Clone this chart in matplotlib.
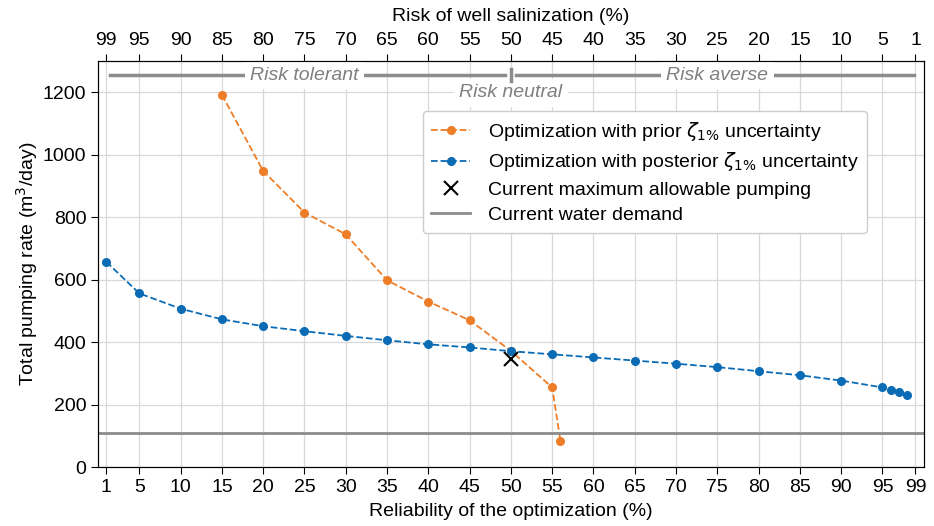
import matplotlib.pyplot as plt
import numpy as np

plt.rcParams['font.family'] = ['Liberation Sans', 'DejaVu Sans']
plt.rcParams['mathtext.fontset'] = 'dejavusans'

# data
rel_prior = [15, 20, 25, 30, 35, 40, 45, 50, 55, 56]
q_prior = [1192, 948, 815, 745, 598, 530, 470, 372, 255, 84]

rel_post = [1, 5, 10, 15, 20, 25, 30, 35, 40, 45, 50, 55, 60, 65, 70, 75, 80,
            85, 90, 95, 96, 97, 98]
q_post = [657, 556, 507, 473, 451, 435, 420, 406, 393, 383, 371, 361, 351,
          341, 331, 320, 307, 294, 277, 255, 248, 239, 231]

current_max = (50, 345)
water_demand = 110

xticks = [1] + list(range(5, 100, 5)) + [99]
risk_labels = [str(100 - t) for t in xticks]

orange = '#ee7d27'
blue = '#0b6cb5'
grey = '#8c8c8c'
fs = 14

fig = plt.figure(figsize=(9.34, 5.26), dpi=100)
ax = fig.add_axes([0.105, 0.112, 0.884, 0.772])

ax.plot(rel_prior, q_prior, '--o', color=orange, ms=5.5, lw=1.3,
        label=r'Optimization with prior $\zeta_{1\%}$ uncertainty')
ax.plot(rel_post, q_post, '--o', color=blue, ms=5.5, lw=1.3,
        label=r'Optimization with posterior $\zeta_{1\%}$ uncertainty')
ax.plot(*current_max, 'x', color='black', ms=10, mew=1.5, ls='none',
        label='Current maximum allowable pumping')
ax.axhline(water_demand, color=grey, lw=2, label='Current water demand')

# risk attitude bars
txt = dict(color='#7f7f7f', style='italic', fontsize=fs, ha='center',
           va='center', bbox=dict(facecolor='white', edgecolor='none', pad=4))
ax.text(25, 1255, 'Risk tolerant', zorder=3, **txt)
ax.text(75, 1255, 'Risk averse', zorder=3, **txt)
ax.text(50, 1198, 'Risk neutral', zorder=3, **txt)
ax.plot([1.4, 49.3], [1255, 1255], color=grey, lw=2.5, zorder=2)
ax.plot([50.6, 98.8], [1255, 1255], color=grey, lw=2.5, zorder=2)
ax.plot([50, 50], [1236, 1274], color=grey, lw=2.5, zorder=4)

ax.set_xlim(0, 100)
ax.set_ylim(0, 1300)
ax.set_xticks(xticks)
ax.set_yticks(np.arange(0, 1201, 200))
ax.tick_params(labelsize=fs, length=5)
ax.grid(True, color='#d9d9d9', lw=0.9)
ax.set_axisbelow(True)
ax.set_xlabel('Reliability of the optimization (%)', fontsize=fs, labelpad=5)
ax.set_ylabel('Total pumping rate (m$^3$/day)', fontsize=fs, labelpad=2)

top = ax.twiny()
top.set_xlim(ax.get_xlim())
top.set_xticks(xticks)
top.set_xticklabels(risk_labels)
top.tick_params(labelsize=fs, length=5)
top.set_xlabel('Risk of well salinization (%)', fontsize=fs, labelpad=8)

ax.legend(loc='upper left', bbox_to_anchor=(0.393, 0.877), fontsize=fs,
          framealpha=1, edgecolor='#cccccc', handlelength=2.0,
          handletextpad=0.9, borderaxespad=0, borderpad=0.45,
          labelspacing=0.4)

fig.savefig('out.png', dpi=100)
